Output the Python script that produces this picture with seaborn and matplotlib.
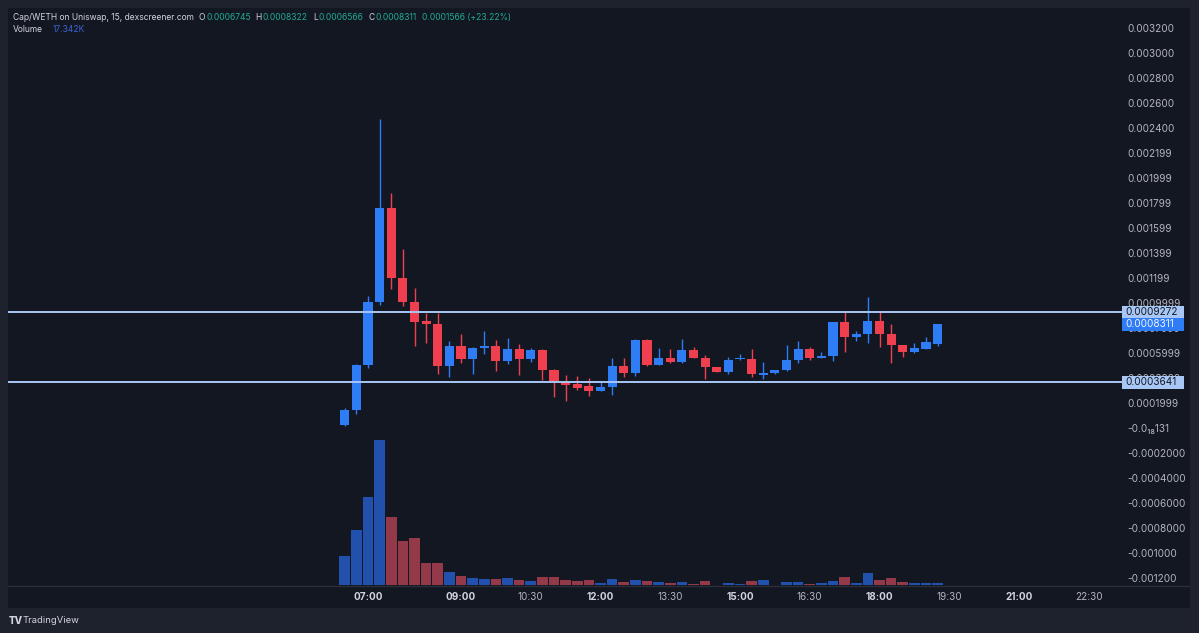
import matplotlib
matplotlib.use("Agg")
import numpy as np
import pandas as pd
import seaborn as sns
import matplotlib.pyplot as plt
from matplotlib.patches import Rectangle
from matplotlib.lines import Line2D
from matplotlib.transforms import blended_transform_factory

W, H = 1199, 633

# candle start times (hours), 15 min bars from 06:30
times = [6.5 + 0.25 * i for i in range(52)]
opens = [0.000024, 0.000144, 0.000502, 0.001006, 0.001762, 0.001198, 0.001006, 0.000854, 0.000830, 0.000496,
         0.000658, 0.000550, 0.000642, 0.000658, 0.000538, 0.000634, 0.000550, 0.000624, 0.000464, 0.000370,
         0.000350, 0.000336, 0.000296, 0.000326, 0.000498, 0.000438, 0.000704, 0.000506, 0.000560, 0.000528,
         0.000622, 0.000562, 0.000490, 0.000448, 0.000550, 0.000552, 0.000426, 0.000438, 0.000462, 0.000544,
         0.000630, 0.000562, 0.000578, 0.000846, 0.000730, 0.000750, 0.000854, 0.000750, 0.000664, 0.000608,
         0.000634, 0.0006745]
highs = [0.000162, 0.000512, 0.001058, 0.002470, 0.001878, 0.001430, 0.001118, 0.000922, 0.000918, 0.000698,
         0.000750, 0.000650, 0.000778, 0.000704, 0.000718, 0.000672, 0.000638, 0.000632, 0.000470, 0.000424,
         0.000416, 0.000398, 0.000370, 0.000562, 0.000562, 0.000710, 0.000712, 0.000638, 0.000630, 0.000714,
         0.000650, 0.000584, 0.000492, 0.000570, 0.000592, 0.000632, 0.000528, 0.000466, 0.000664, 0.000694,
         0.000646, 0.000606, 0.000848, 0.000930, 0.000778, 0.001050, 0.000930, 0.000830, 0.000666, 0.000682,
         0.000730, 0.0008322]
lows = [0.000020, 0.000112, 0.000478, 0.000984, 0.001110, 0.000976, 0.000656, 0.000678, 0.000432, 0.000406,
        0.000518, 0.000432, 0.000592, 0.000456, 0.000512, 0.000424, 0.000530, 0.000384, 0.000246, 0.000216,
        0.000304, 0.000256, 0.000294, 0.000262, 0.000406, 0.000416, 0.000500, 0.000504, 0.000524, 0.000518,
        0.000558, 0.000390, 0.000446, 0.000432, 0.000548, 0.000406, 0.000390, 0.000436, 0.000460, 0.000518,
        0.000544, 0.000560, 0.000538, 0.000606, 0.000698, 0.000678, 0.000646, 0.000518, 0.000570, 0.000602,
        0.000630, 0.0006566]
closes = [0.000144, 0.000502, 0.001006, 0.001762, 0.001198, 0.001006, 0.000850, 0.000830, 0.000496, 0.000658,
          0.000550, 0.000642, 0.000658, 0.000538, 0.000634, 0.000550, 0.000624, 0.000464, 0.000370, 0.000346,
          0.000322, 0.000298, 0.000326, 0.000498, 0.000438, 0.000704, 0.000504, 0.000560, 0.000526, 0.000622,
          0.000562, 0.000488, 0.000448, 0.000546, 0.000558, 0.000430, 0.000440, 0.000464, 0.000544, 0.000630,
          0.000558, 0.000578, 0.000846, 0.000726, 0.000752, 0.000854, 0.000750, 0.000664, 0.000608, 0.000638,
          0.000690, 0.0008311]
# volume in thousands
volumes = [249, 474, 763, 1255, 590, 381, 407, 191, 190, 115,
           75, 63, 55, 52, 61, 43, 35, 67, 69, 46,
           35, 46, 20, 55, 30, 43, 35, 23, 15, 26,
           9, 35, 4, 17, 9, 32, 43, 4, 29, 23,
           11, 15, 37, 72, 15, 101, 43, 63, 23, 15,
           20, 17.342]

h_levels = [0.0009272, 0.0003641]
last_close = 0.0008311

price_ticks = [0.0032 - 0.0002 * i for i in range(23)]
price_labels = ["0.003200", "0.003000", "0.002800", "0.002600", "0.002400", "0.002199", "0.001999",
                "0.001799", "0.001599", "0.001399", "0.001199", "0.0009999", "0.0007999", "0.0005999",
                "0.0003999", "0.0001999", "-0.0₁₈131", "-0.0002000", "-0.0004000", "-0.0006000",
                "-0.0008000", "-0.001000", "-0.001200"]
time_ticks = [7, 9, 10.5, 12, 13.5, 15, 16.5, 18, 19.5, 21, 22.5]
time_labels = ["07:00", "09:00", "10:30", "12:00", "13:30", "15:00", "16:30", "18:00", "19:30", "21:00", "22:30"]

df = pd.DataFrame({"time": times, "open": opens, "high": highs, "low": lows,
                   "close": closes, "volume": volumes})
df["dir"] = np.where(df["close"] >= df["open"], "up", "down")

BG_OUT = "#1e222d"
BG = "#131722"
UP, DOWN = "#2e7cf6", "#f0404f"
VUP, VDOWN = "#2150ad", "#94394a"
TXT = "#b2b5be"

sns.set_theme(style="dark")
plt.rcParams["font.family"] = ["Inter", "DejaVu Sans"]

fig = plt.figure(figsize=(W / 100, H / 100), dpi=100, facecolor=BG_OUT)
fig.patches.append(Rectangle((8 / W, 1 - 608 / H), (1190 - 8) / W, (608 - 8) / H,
                             transform=fig.transFigure, facecolor=BG, edgecolor="none", zorder=-5))

rect = [8 / W, 1 - 585 / H, (1122 - 8) / W, (585 - 8) / H]
axv = fig.add_axes(rect)
ax = fig.add_axes(rect, sharex=axv)
for a in (ax, axv):
    a.set_facecolor("none")
    for s in a.spines.values():
        s.set_visible(False)
    a.grid(False)

# volume
sns.barplot(data=df, x="time", y="volume", hue="dir", palette={"up": VUP, "down": VDOWN},
            native_scale=True, dodge=False, width=0.92, saturation=1, legend=False,
            errorbar=None, linewidth=0, ax=axv)
axv.set_ylim(0, df["volume"].max() * 577 / 144.7)
axv.set_xlabel("")
axv.set_ylabel("")
axv.tick_params(left=False, labelleft=False, bottom=False, labelbottom=False)

# candles
cols = np.where(df["dir"] == "up", UP, DOWN)
ax.vlines(df["time"], df["low"], df["high"], colors=cols, lw=1, zorder=2)
body_lo = np.minimum(df["open"], df["close"])
body_h = np.maximum(np.abs(df["close"] - df["open"]), 0.000009)
ax.bar(df["time"], body_h, bottom=body_lo, width=0.25 * 0.78, color=cols, linewidth=0, zorder=3)

for lv in h_levels:
    ax.axhline(lv, color="#a9c7f5", lw=1.4, zorder=4)

ax.set_xlim(7 + (8 - 368) / 46.5, 7 + (1122 - 368) / 46.5)
ax.set_ylim(0.0032 - (585 - 28) / 125000, 0.0032 + 20 / 125000)

ax.yaxis.tick_right()
ax.set_yticks(price_ticks)
ax.set_yticklabels(price_labels)
ax.tick_params(axis="y", length=0, pad=3.6, labelsize=7.2, labelcolor=TXT)
ax.set_xticks(time_ticks)
ax.set_xticklabels(time_labels)
ax.tick_params(axis="x", length=0, pad=5, labelsize=7.2, labelcolor=TXT)
for t in ax.get_xticklabels():
    if t.get_text().endswith(":00"):
        t.set_fontweight("bold")
        t.set_color("#d1d4dc")

# price labels on the scale
px_per_price = 577 / (ax.get_ylim()[1] - ax.get_ylim()[0])
tr = blended_transform_factory(ax.transAxes, ax.transData)
box_w = 62 / (1122 - 8)
box_h = 13 / px_per_price
for lv, fc, tc in [(h_levels[0], "#a9c7f5", "#131722"), (last_close, UP, "#f0f3fa"),
                   (h_levels[1], "#a9c7f5", "#131722")]:
    ax.add_patch(Rectangle((1.0, lv - box_h / 2), box_w, box_h, transform=tr, facecolor=fc,
                           edgecolor="none", clip_on=False, zorder=10))
    ax.text(1.0 + 3 / 1114, lv, f"{lv:.7f}", transform=tr, color=tc, fontsize=7.2,
            va="center", ha="left", clip_on=False, zorder=11)

# separator between plot and time scale
fig.add_artist(Line2D([8 / W, 1190 / W], [1 - 585.5 / H, 1 - 585.5 / H], color="#2a2e39", lw=1))

# header
renderer = fig.canvas.get_renderer()
MAIN, GREEN, BLUE = "#d1d4dc", "#22ab94", "#3a63d8"


def header_row(pieces, x0, y):
    x = x0
    for txt, col, gap in pieces:
        t = fig.text(x / W, 1 - y / H, txt, color=col, fontsize=6.1, va="center", ha="left")
        x += t.get_window_extent(renderer).width + gap


header_row([("Cap/WETH on Uniswap, 15, dexscreener.com", MAIN, 5),
            ("O", MAIN, 1), ("0.0006745", GREEN, 5),
            ("H", MAIN, 1), ("0.0008322", GREEN, 5),
            ("L", MAIN, 1), ("0.0006566", GREEN, 5),
            ("C", MAIN, 1), ("0.0008311", GREEN, 5),
            ("0.0001566 (+23.22%)", GREEN, 0)], 12.7, 17.3)
header_row([("Volume", MAIN, 10), ("17.342K", BLUE, 0)], 12.7, 29.3)

# footer logo
fig.text(9 / W, 1 - 620.5 / H, "TV", color="#d1d4dc", fontsize=7, fontweight="heavy", va="center")
fig.text(23 / W, 1 - 620.5 / H, "TradingView", color="#d1d4dc", fontsize=6.8, va="center")

fig.savefig("out.png", dpi=100, facecolor=BG_OUT)
